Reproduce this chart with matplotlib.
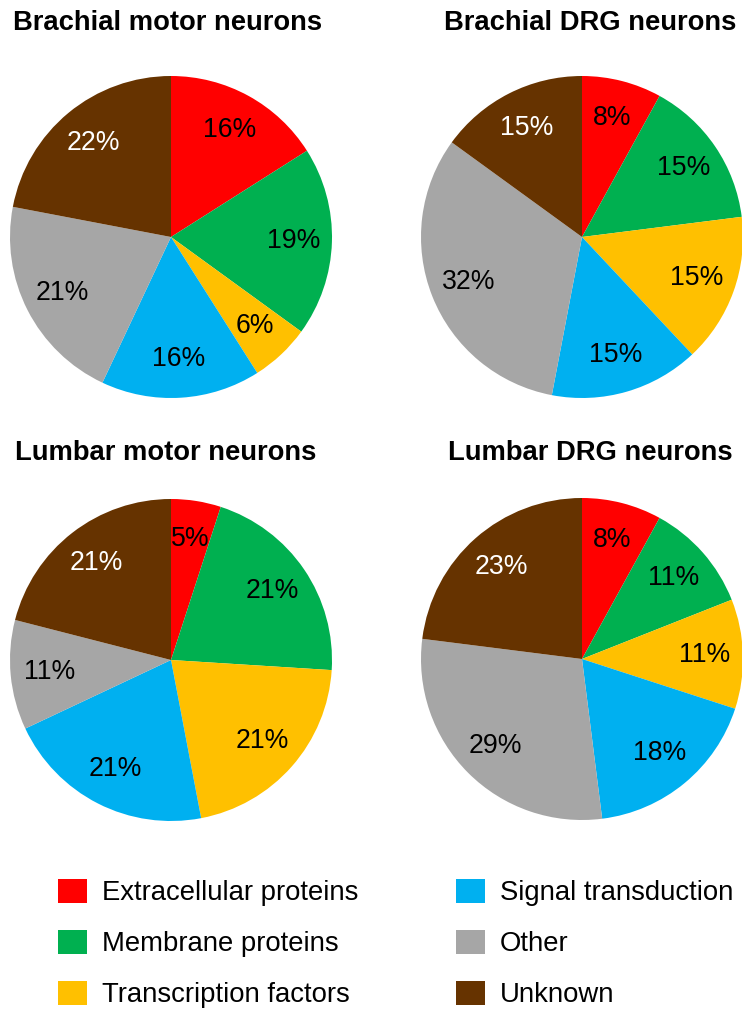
import matplotlib
matplotlib.use("Agg")
from matplotlib import pyplot as plt
from matplotlib.patches import Patch

plt.rcParams['font.family'] = ['Liberation Sans', 'DejaVu Sans']

categories = ["Extracellular proteins", "Membrane proteins", "Transcription factors",
              "Signal transduction", "Other", "Unknown"]
colors = ["#FF0000", "#00B050", "#FFC000", "#00B0F0", "#A6A6A6", "#663300"]
label_colors = ["black", "black", "black", "black", "black", "white"]

titles = ["Brachial motor neurons", "Brachial DRG neurons",
          "Lumbar motor neurons", "Lumbar DRG neurons"]
brachial_motor = [16, 19, 6, 16, 21, 22]
brachial_drg = [8, 15, 15, 15, 32, 15]
lumbar_motor = [5, 21, 21, 21, 11, 21]
lumbar_drg = [8, 11, 11, 18, 29, 23]
series = [brachial_motor, brachial_drg, lumbar_motor, lumbar_drg]

W, H = 742, 1010
fig = plt.figure(figsize=(W / 100, H / 100), dpi=100)

# pie centres / title centres in pixels (from the top-left corner)
R = 161
centers = [(171, 237), (582, 237), (171, 660), (582, 659)]
title_pos = [(168, 23), (590, 23), (166, 453), (590, 453)]

for vals, title, (cx, cy), (tx, ty) in zip(series, titles, centers, title_pos):
    ax = fig.add_axes([(cx - R) / W, (H - cy - R) / H, 2 * R / W, 2 * R / H])
    wedges, texts, autotexts = ax.pie(
        vals, colors=colors, startangle=90, counterclock=False,
        autopct=lambda p: "%d%%" % round(p), pctdistance=0.76,
        wedgeprops=dict(linewidth=0),
        textprops=dict(fontsize=19.2))
    for t, c in zip(autotexts, label_colors):
        t.set_color(c)
    ax.set_xlim(-1, 1)
    ax.set_ylim(-1, 1)
    ax.set_aspect("equal")
    ax.axis("off")
    fig.text(tx / W, 1 - ty / H, title, ha="center", va="center",
             fontsize=19.7, fontweight="bold")

handles = [Patch(facecolor=c, edgecolor="none", label=n) for c, n in zip(colors, categories)]
leg_kw = dict(frameon=False, fontsize=19.8, handlelength=1.05, handleheight=0.95,
              handletextpad=0.55, labelspacing=0.86, borderpad=0, borderaxespad=0,
              loc="upper left")
fig.legend(handles=handles[:3], bbox_to_anchor=(58 / W, 1 - 879 / H), **leg_kw)
fig.legend(handles=handles[3:], bbox_to_anchor=(456 / W, 1 - 879 / H), **leg_kw)

fig.savefig("out.png", dpi=100)
